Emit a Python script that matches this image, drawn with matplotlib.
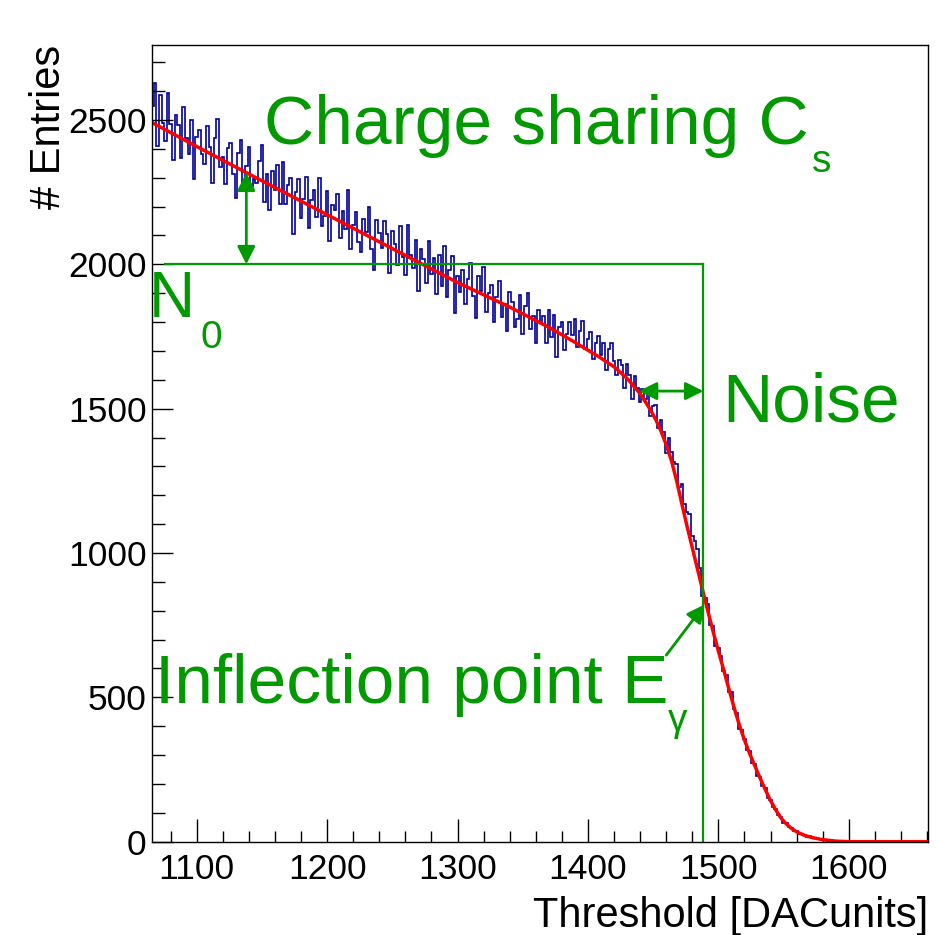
import numpy as np
import matplotlib
matplotlib.use("Agg")
import matplotlib.pyplot as plt
from matplotlib.ticker import MultipleLocator


# Data :

BIN_START = 1065
BIN_WIDTH = 2

# threshold scan, entries per 2 DAC bins
counts = [
    2550, 2628, 2411, 2586, 2491, 2427, 2592, 2487, 2363, 2518,
    2483, 2368, 2544, 2439, 2384, 2500, 2295, 2440, 2465, 2381,
    2346, 2481, 2407, 2282, 2437, 2502, 2338, 2373, 2278, 2403,
    2419, 2314, 2229, 2385, 2430, 2265, 2341, 2406, 2271, 2296,
    2282, 2357, 2412, 2217, 2313, 2188, 2323, 2259, 2344, 2209,
    2354, 2210, 2275, 2300, 2106, 2251, 2296, 2161, 2227, 2302,
    2127, 2222, 2258, 2163, 2298, 2134, 2169, 2254, 2080, 2205,
    2190, 2245, 2091, 2186, 2121, 2256, 2052, 2137, 2182, 2078,
    2043, 2158, 2113, 2199, 2054, 1979, 2155, 2110, 2055, 2150,
    2105, 1971, 2116, 2071, 1997, 2132, 2027, 1963, 2138, 2033,
    1988, 2084, 1909, 2054, 2019, 1935, 2080, 1965, 2021, 1896,
    2031, 1926, 2062, 1887, 1982, 2028, 1833, 1958, 1903, 1979,
    1864, 1949, 2004, 1890, 1815, 1960, 1906, 1991, 1836, 1901,
    1927, 1802, 1887, 1942, 1818, 1863, 1768, 1904, 1869, 1784,
    1809, 1895, 1760, 1855, 1901, 1776, 1821, 1726, 1842, 1797,
    1822, 1727, 1843, 1748, 1823, 1679, 1784, 1799, 1705, 1760,
    1801, 1755, 1810, 1715, 1769, 1804, 1708, 1743, 1767, 1672,
    1726, 1751, 1685, 1729, 1633, 1706, 1729, 1665, 1617, 1669,
    1651, 1573, 1655, 1615, 1534, 1614, 1573, 1522, 1569, 1534,
    1550, 1475, 1509, 1512, 1432, 1462, 1419, 1345, 1398, 1350,
    1315, 1310, 1230, 1240, 1171, 1142, 1135, 1058, 1041, 1014,
    947, 850, 843, 822, 752, 747, 678, 670, 643, 591,
    578, 520, 517, 460, 445, 390, 388, 357, 318, 313,
    273, 270, 229, 225, 192, 186, 151, 146, 120, 113,
    92, 86, 66, 65, 50, 48, 37, 36, 27, 28,
    24, 17, 18, 12, 13, 8, 10, 6, 7, 4,
    5, 3, 4, 2, 3, 1, 2, 3, 1, 2,
    0, 3, 1, 4, 0, 2, 1, 0, 3, 1,
    2, 0, 1, 3, 0, 2, 1, 0, 2, 4,
    0, 1, 3, 0, 2, 1, 0, 2,
]

# fitted s-curve (red)
fit_x = [1067, 1100, 1140, 1180, 1220, 1260, 1300, 1340, 1370, 1390,
         1409, 1420, 1430, 1440, 1444, 1448, 1452, 1456, 1460, 1464,
         1468, 1472, 1476, 1480, 1484, 1488, 1492, 1496, 1500, 1504,
         1508, 1512, 1516, 1520, 1524, 1528, 1532, 1536, 1540, 1544,
         1548, 1552, 1556, 1560, 1566, 1572, 1580, 1590, 1600, 1661]
fit_y = [2488, 2408, 2313, 2219, 2125, 2031, 1937, 1852, 1782, 1730,
         1678, 1645, 1605, 1552, 1524, 1495, 1462, 1422, 1375, 1320,
         1250, 1170, 1092, 1018, 944, 870, 797, 727, 660, 596,
         530, 465, 405, 352, 305, 262, 220, 180, 142, 110,
         82, 62, 46, 34, 22, 14, 7, 2, 0, 0]

# annotation values
N0 = 2000
N0_START = 1076
E_GAMMA = 1488.5
CS_ARROW_X = 1138
CS_ARROW_TOP = 2318
NOISE_LEFT = 1439
NOISE_Y = 1561
INFL_TAIL = (1460, 646)
INFL_HEAD = (1489.5, 822)

GREEN = "#009900"
BLUE = "#000099"


# Figure :

plt.rcParams["font.family"] = ["Liberation Sans", "DejaVu Sans"]

fig = plt.figure(figsize=(9.42, 9.35), dpi=100)
ax = fig.add_axes([0.1614, 0.0998, 0.8241, 0.8521])

edges = BIN_START + BIN_WIDTH * np.arange(len(counts) + 1)
ax.stairs(counts, edges, baseline=None, color=BLUE, linewidth=1.2)

ax.plot(fit_x, fit_y, color="red", linewidth=2.5)

# green guide lines
ax.plot([N0_START, E_GAMMA], [N0, N0], color=GREEN, linewidth=1.6)
ax.plot([E_GAMMA, E_GAMMA], [0, N0], color=GREEN, linewidth=1.6)

arrow = dict(arrowstyle="<|-|>", color=GREEN, linewidth=2,
             mutation_scale=27, shrinkA=0, shrinkB=0)
ax.annotate("", xy=(CS_ARROW_X, CS_ARROW_TOP), xytext=(CS_ARROW_X, N0),
            arrowprops=arrow)
ax.annotate("", xy=(NOISE_LEFT, NOISE_Y), xytext=(E_GAMMA, NOISE_Y),
            arrowprops=arrow)
ax.annotate("", xy=INFL_HEAD, xytext=INFL_TAIL,
            arrowprops=dict(arrowstyle="-|>", color=GREEN, linewidth=2,
                            mutation_scale=27, shrinkA=0, shrinkB=0))

# labels
ax.text(1151.3, 2416.7, "Charge sharing C", color=GREEN, fontsize=50)
ax.text(1571.7, 2319.7, "s", color=GREEN, fontsize=28)
ax.text(1063.4, 1816.4, "N", color=GREEN, fontsize=46)
ax.text(1102.5, 1709, "0", color=GREEN, fontsize=28)
ax.text(1503.2, 1454.8, "Noise", color=GREEN, fontsize=50)
ax.text(1067.7, 480.4, "Inflection point E", color=GREEN, fontsize=50)
ax.text(1461.4, 383.4, "γ", color=GREEN, fontsize=28)

ax.set_xlim(1065.7, 1661)
ax.set_ylim(0, 2760)

ax.xaxis.set_major_locator(MultipleLocator(100))
ax.xaxis.set_minor_locator(MultipleLocator(20))
ax.yaxis.set_major_locator(MultipleLocator(500))
ax.yaxis.set_minor_locator(MultipleLocator(100))

ax.tick_params(axis="both", which="both", direction="in", width=1,
               labelsize=25.5, top=False, right=False)
ax.tick_params(axis="x", which="major", length=16.5, pad=8)
ax.tick_params(axis="x", which="minor", length=8)
ax.tick_params(axis="y", which="major", length=15, pad=4)
ax.tick_params(axis="y", which="minor", length=9)

for s in ax.spines.values():
    s.set_linewidth(1)

ax.set_xlabel("Threshold [DACunits]", fontsize=30, loc="right")
ax.set_ylabel("# Entries", fontsize=30, loc="top")
ax.xaxis.set_label_coords(1.0, -0.0685)
ax.yaxis.set_label_coords(-0.1073, 1.0)

fig.savefig("out.png", dpi=100)
